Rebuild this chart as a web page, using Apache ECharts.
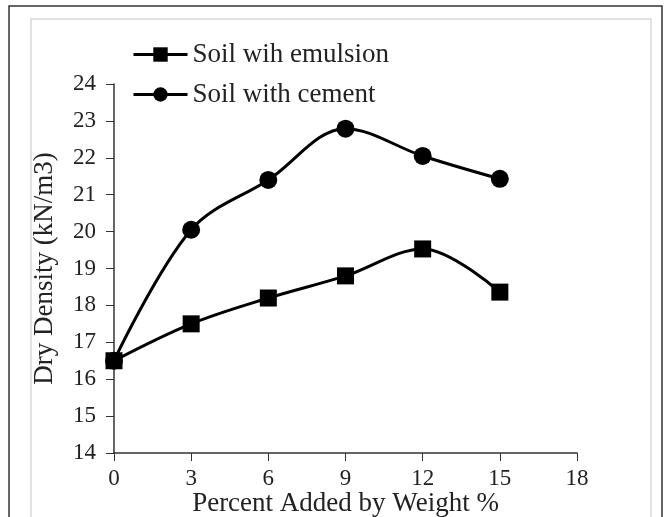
<!DOCTYPE html>
<html><head><meta charset="utf-8">
<script src="https://cdn.jsdelivr.net/npm/echarts@6/dist/echarts.min.js"></script>
<style>html,body{margin:0;padding:0;background:#fff}#c{width:670px;height:517px}</style>
</head><body><div id="c"></div>
<script>
const xValues = [0, 3, 6, 9, 12, 15];
const emulsion = [16.5, 17.5, 18.2, 18.8, 19.53, 18.36];
const cement = [16.5, 20.05, 21.4, 22.79, 22.05, 21.43];
const xTicks = [0, 3, 6, 9, 12, 15, 18];
const yTicks = [14, 15, 16, 17, 18, 19, 20, 21, 22, 23, 24];

const font = 'Liberation Serif';
const chart = echarts.init(document.getElementById('c'));
chart.setOption({
  animation: false,
  backgroundColor: '#fff',
  textStyle: { fontFamily: font },
  graphic: [
    { type: 'rect', shape: { x: 9, y: 6, width: 653, height: 520 }, style: { fill: 'none', stroke: '#333', lineWidth: 1.5 }, z: -1 },
    { type: 'rect', shape: { x: 31, y: 19, width: 620, height: 510 }, style: { fill: 'none', stroke: '#d8d8d8', lineWidth: 1.5 }, z: -1 }
  ],
  legend: {
    orient: 'vertical', left: 127, top: 36, itemGap: 13,
    itemWidth: 54, itemHeight: 18,
    lineStyle: { width: 3 },
    textStyle: { fontFamily: font, fontSize: 27, color: '#222' },
    data: ['Soil wih emulsion', 'Soil with cement']
  },
  grid: { left: 114, right: 93, top: 84, bottom: 64, outerBoundsMode: 'none', containLabel: false },
  xAxis: {
    type: 'value', min: 0, max: 18, interval: 3,
    name: 'Percent Added by Weight %', nameLocation: 'middle', nameGap: 37,
    nameMoveOverlap: false,
    nameTextStyle: { fontFamily: font, fontSize: 27, color: '#222' },
    axisLine: { lineStyle: { color: '#333', width: 1.5 } },
    axisTick: { show: true, length: 8, lineStyle: { color: '#333' } },
    axisLabel: { fontFamily: font, fontSize: 23, color: '#222', margin: 14 },
    splitLine: { show: false }
  },
  yAxis: {
    type: 'value', min: 14, max: 24, interval: 1,
    name: 'Dry Density (kN/m3)', nameLocation: 'middle', nameGap: 56,
    nameMoveOverlap: false,
    nameTextStyle: { fontFamily: font, fontSize: 27, color: '#222' },
    axisLine: { show: true, lineStyle: { color: '#333', width: 1.5 } },
    axisTick: { show: true, length: 8, lineStyle: { color: '#333' } },
    axisLabel: { fontFamily: font, fontSize: 23, color: '#222', margin: 18 },
    splitLine: { show: false }
  },
  series: [
    {
      name: 'Soil wih emulsion', type: 'line', smooth: 0.35,
      data: xValues.map((x, i) => [x, emulsion[i]]),
      symbol: 'rect', symbolSize: 17,
      lineStyle: { color: '#000', width: 3 }, itemStyle: { color: '#000' }
    },
    {
      name: 'Soil with cement', type: 'line', smooth: 0.35,
      data: xValues.map((x, i) => [x, cement[i]]),
      symbol: 'circle', symbolSize: 18,
      lineStyle: { color: '#000', width: 3 }, itemStyle: { color: '#000' }
    }
  ]
});
</script></body></html>
